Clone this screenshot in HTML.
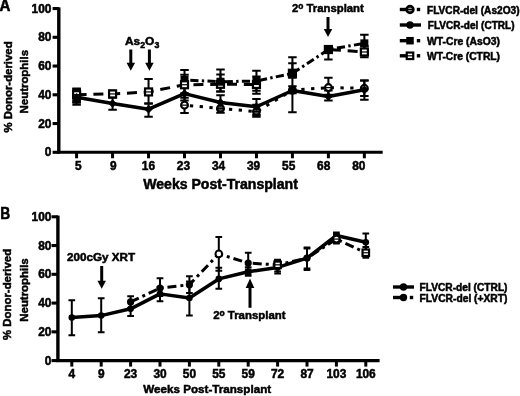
<!DOCTYPE html>
<html><head><meta charset="utf-8"><title>Figure</title>
<style>html,body{margin:0;padding:0;background:#fff;}svg{display:block;filter:blur(0.35px);}text{fill:#000;font-family:"Liberation Sans",sans-serif;font-weight:bold;}</style>
</head><body>
<svg width="520" height="396" viewBox="0 0 520 396">
<rect width="520" height="396" fill="#fff"/>
<text x="-0.4" y="10.5" font-size="15.8" textLength="10.9" lengthAdjust="spacingAndGlyphs" font-family="Liberation Sans, sans-serif" font-weight="bold" stroke="#000" stroke-width="0.5">A</text>
<text x="0.2" y="218.8" font-size="15.8" textLength="10" lengthAdjust="spacingAndGlyphs" font-family="Liberation Sans, sans-serif" font-weight="bold" stroke="#000" stroke-width="0.5">B</text>
<path d="M58.8 7.35V153.50" stroke="#000" stroke-width="3.4"/>
<path d="M57.3 152.30H382.7" stroke="#000" stroke-width="3.1"/>
<path d="M52.599999999999994 152.30H58.8" stroke="#000" stroke-width="3.1"/>
<text x="51.4" y="156.30" text-anchor="end" font-size="11.9" font-family="Liberation Sans, sans-serif" font-weight="bold" stroke="#000" stroke-width="0.5">0</text>
<path d="M52.599999999999994 123.55H58.8" stroke="#000" stroke-width="3.1"/>
<text x="51.4" y="127.55" text-anchor="end" font-size="11.9" font-family="Liberation Sans, sans-serif" font-weight="bold" stroke="#000" stroke-width="0.5">20</text>
<path d="M52.599999999999994 94.80H58.8" stroke="#000" stroke-width="3.1"/>
<text x="51.4" y="98.80" text-anchor="end" font-size="11.9" font-family="Liberation Sans, sans-serif" font-weight="bold" stroke="#000" stroke-width="0.5">40</text>
<path d="M52.599999999999994 66.05H58.8" stroke="#000" stroke-width="3.1"/>
<text x="51.4" y="70.05" text-anchor="end" font-size="11.9" font-family="Liberation Sans, sans-serif" font-weight="bold" stroke="#000" stroke-width="0.5">60</text>
<path d="M52.599999999999994 37.30H58.8" stroke="#000" stroke-width="3.1"/>
<text x="51.4" y="41.30" text-anchor="end" font-size="11.9" font-family="Liberation Sans, sans-serif" font-weight="bold" stroke="#000" stroke-width="0.5">80</text>
<path d="M52.599999999999994 8.55H58.8" stroke="#000" stroke-width="3.1"/>
<text x="51.4" y="12.55" text-anchor="end" font-size="11.9" font-family="Liberation Sans, sans-serif" font-weight="bold" stroke="#000" stroke-width="0.5">100</text>
<path d="M76.60 152.30V158.30" stroke="#000" stroke-width="3"/>
<text x="78.30" y="169.6" text-anchor="middle" font-size="11.9" font-family="Liberation Sans, sans-serif" font-weight="bold" stroke="#000" stroke-width="0.5">5</text>
<path d="M112.57 152.30V158.30" stroke="#000" stroke-width="3"/>
<text x="113.36" y="169.6" text-anchor="middle" font-size="11.9" font-family="Liberation Sans, sans-serif" font-weight="bold" stroke="#000" stroke-width="0.5">9</text>
<path d="M148.54 152.30V158.30" stroke="#000" stroke-width="3"/>
<text x="148.42" y="169.6" text-anchor="middle" font-size="11.9" font-family="Liberation Sans, sans-serif" font-weight="bold" stroke="#000" stroke-width="0.5">16</text>
<path d="M184.51 152.30V158.30" stroke="#000" stroke-width="3"/>
<text x="183.48" y="169.6" text-anchor="middle" font-size="11.9" font-family="Liberation Sans, sans-serif" font-weight="bold" stroke="#000" stroke-width="0.5">23</text>
<path d="M220.48 152.30V158.30" stroke="#000" stroke-width="3"/>
<text x="218.54" y="169.6" text-anchor="middle" font-size="11.9" font-family="Liberation Sans, sans-serif" font-weight="bold" stroke="#000" stroke-width="0.5">34</text>
<path d="M256.45 152.30V158.30" stroke="#000" stroke-width="3"/>
<text x="253.60" y="169.6" text-anchor="middle" font-size="11.9" font-family="Liberation Sans, sans-serif" font-weight="bold" stroke="#000" stroke-width="0.5">39</text>
<path d="M292.42 152.30V158.30" stroke="#000" stroke-width="3"/>
<text x="288.66" y="169.6" text-anchor="middle" font-size="11.9" font-family="Liberation Sans, sans-serif" font-weight="bold" stroke="#000" stroke-width="0.5">55</text>
<path d="M328.39 152.30V158.30" stroke="#000" stroke-width="3"/>
<text x="323.72" y="169.6" text-anchor="middle" font-size="11.9" font-family="Liberation Sans, sans-serif" font-weight="bold" stroke="#000" stroke-width="0.5">68</text>
<path d="M364.36 152.30V158.30" stroke="#000" stroke-width="3"/>
<text x="358.78" y="169.6" text-anchor="middle" font-size="11.9" font-family="Liberation Sans, sans-serif" font-weight="bold" stroke="#000" stroke-width="0.5">80</text>
<text x="143.2" y="188.5" font-size="14" textLength="154.7" lengthAdjust="spacingAndGlyphs" font-family="Liberation Sans, sans-serif" font-weight="bold" stroke="#000" stroke-width="0.5">Weeks Post-Transplant</text>
<text transform="translate(11.8,132.4) rotate(-90)" font-size="11.6" textLength="91" lengthAdjust="spacingAndGlyphs" font-family="Liberation Sans, sans-serif" font-weight="bold" stroke="#000" stroke-width="0.5">% Donor-derived</text>
<text transform="translate(28.3,113.4) rotate(-90)" font-size="11.6" textLength="63.4" lengthAdjust="spacingAndGlyphs" font-family="Liberation Sans, sans-serif" font-weight="bold" stroke="#000" stroke-width="0.5">Neutrophils</text>
<path d="M76.60 91.93V104.86M72.35 91.93h8.5M72.35 104.86h8.5" stroke="#000" stroke-width="2.0" fill="none"/>
<path d="M112.57 97.68V109.75M108.32 97.68h8.5M108.32 109.75h8.5" stroke="#000" stroke-width="2.0" fill="none"/>
<path d="M148.54 103.43V116.65M144.29 103.43h8.5M144.29 116.65h8.5" stroke="#000" stroke-width="2.0" fill="none"/>
<path d="M184.51 87.61V100.55M180.26 87.61h8.5M180.26 100.55h8.5" stroke="#000" stroke-width="2.0" fill="none"/>
<path d="M220.48 95.23V109.18M216.23 95.23h8.5M216.23 109.18h8.5" stroke="#000" stroke-width="2.0" fill="none"/>
<path d="M256.45 99.11V114.93M252.20 99.11h8.5M252.20 114.93h8.5" stroke="#000" stroke-width="2.0" fill="none"/>
<path d="M292.42 70.36V112.19M288.17 70.36h8.5M288.17 112.19h8.5" stroke="#000" stroke-width="2.0" fill="none"/>
<path d="M328.39 90.49V100.55M324.14 90.49h8.5M324.14 100.55h8.5" stroke="#000" stroke-width="2.0" fill="none"/>
<path d="M364.36 80.43V99.83M360.11 80.43h8.5M360.11 99.83h8.5" stroke="#000" stroke-width="2.0" fill="none"/>
<path d="M76.60 90.49V101.99M72.35 90.49h8.5M72.35 101.99h8.5" stroke="#000" stroke-width="2.0" fill="none"/>
<path d="M184.51 97.68V112.91M180.26 97.68h8.5M180.26 112.91h8.5" stroke="#000" stroke-width="2.0" fill="none"/>
<path d="M220.48 101.99V112.77M216.23 101.99h8.5M216.23 112.77h8.5" stroke="#000" stroke-width="2.0" fill="none"/>
<path d="M256.45 104.86V116.65M252.20 104.86h8.5M252.20 116.65h8.5" stroke="#000" stroke-width="2.0" fill="none"/>
<path d="M292.42 86.18V93.36M288.17 86.18h8.5M288.17 93.36h8.5" stroke="#000" stroke-width="2.0" fill="none"/>
<path d="M328.39 77.84V94.80M324.14 77.84h8.5M324.14 94.80h8.5" stroke="#000" stroke-width="2.0" fill="none"/>
<path d="M364.36 80.43V95.95M360.11 80.43h8.5M360.11 95.95h8.5" stroke="#000" stroke-width="2.0" fill="none"/>
<path d="M76.60 88.48V102.71M72.35 88.48h8.5M72.35 102.71h8.5" stroke="#000" stroke-width="2.0" fill="none"/>
<path d="M184.51 69.93V86.18M180.26 69.93h8.5M180.26 86.18h8.5" stroke="#000" stroke-width="2.0" fill="none"/>
<path d="M220.48 69.50V91.49M216.23 69.50h8.5M216.23 91.49h8.5" stroke="#000" stroke-width="2.0" fill="none"/>
<path d="M256.45 70.65V90.78M252.20 70.65h8.5M252.20 90.78h8.5" stroke="#000" stroke-width="2.0" fill="none"/>
<path d="M292.42 57.28V77.55M288.17 57.28h8.5M288.17 77.55h8.5" stroke="#000" stroke-width="2.0" fill="none"/>
<path d="M328.39 45.93V59.44M324.14 45.93h8.5M324.14 59.44h8.5" stroke="#000" stroke-width="2.0" fill="none"/>
<path d="M364.36 34.71V54.55M360.11 34.71h8.5M360.11 54.55h8.5" stroke="#000" stroke-width="2.0" fill="none"/>
<path d="M76.60 89.05V100.55M72.35 89.05h8.5M72.35 100.55h8.5" stroke="#000" stroke-width="2.0" fill="none"/>
<path d="M112.57 90.49V96.96M108.32 90.49h8.5M108.32 96.96h8.5" stroke="#000" stroke-width="2.0" fill="none"/>
<path d="M148.54 78.99V103.43M144.29 78.99h8.5M144.29 103.43h8.5" stroke="#000" stroke-width="2.0" fill="none"/>
<path d="M184.51 74.68V93.36M180.26 74.68h8.5M180.26 93.36h8.5" stroke="#000" stroke-width="2.0" fill="none"/>
<path d="M220.48 74.39V91.49M216.23 74.39h8.5M216.23 91.49h8.5" stroke="#000" stroke-width="2.0" fill="none"/>
<path d="M256.45 76.40V93.65M252.20 76.40h8.5M252.20 93.65h8.5" stroke="#000" stroke-width="2.0" fill="none"/>
<path d="M292.42 63.32V77.55M288.17 63.32h8.5M288.17 77.55h8.5" stroke="#000" stroke-width="2.0" fill="none"/>
<path d="M328.39 45.93V53.11M324.14 45.93h8.5M324.14 53.11h8.5" stroke="#000" stroke-width="2.0" fill="none"/>
<path d="M364.36 45.93V57.14M360.11 45.93h8.5M360.11 57.14h8.5" stroke="#000" stroke-width="2.0" fill="none"/>
<path d="M76.60 94.66 L112.57 93.94 L148.54 91.93 L184.51 84.74 L220.48 84.31 L256.45 84.45" stroke="#000" stroke-width="3" fill="none" stroke-linejoin="round" stroke-linecap="butt" stroke-dasharray="10 6.8" stroke-dashoffset="0"/>
<path d="M328.39 49.52 L364.36 51.96" stroke="#000" stroke-width="3" fill="none" stroke-linejoin="round" stroke-linecap="butt" stroke-dasharray="10 6.8" stroke-dashoffset="14.3"/>
<path d="M184.51 79.99 L220.48 81.72 L256.45 81.00 L292.42 73.38 L328.39 49.52 L364.36 43.34" stroke="#000" stroke-width="3" fill="none" stroke-linejoin="round" stroke-linecap="butt" stroke-dasharray="8.2 3.3 2.4 3.3" stroke-dashoffset="11.4"/>
<path d="M184.51 105.15 L220.48 108.46 L256.45 111.62 L292.42 90.20 L328.39 87.61 L364.36 88.33" stroke="#000" stroke-width="3" fill="none" stroke-linejoin="round" stroke-linecap="butt" stroke-dasharray="3.3 6.5" stroke-dashoffset="4.4"/>
<path d="M76.60 97.24 L112.57 103.43 L148.54 109.18 L184.51 93.65 L220.48 102.56 L256.45 106.73 L292.42 90.49 L328.39 96.53 L364.36 89.77" stroke="#000" stroke-width="3.5" fill="none" stroke-linejoin="round" stroke-linecap="butt"/>
<rect x="109.07" y="90.44" width="7" height="7" fill="#fff" stroke="#000" stroke-width="2.2"/>
<path d="M109.07 93.94h7" stroke="#000" stroke-width="1.2"/>
<rect x="145.04" y="88.43" width="7" height="7" fill="#fff" stroke="#000" stroke-width="2.2"/>
<path d="M145.04 91.93h7" stroke="#000" stroke-width="1.2"/>
<rect x="216.98" y="80.81" width="7" height="7" fill="#fff" stroke="#000" stroke-width="2.2"/>
<path d="M216.98 84.31h7" stroke="#000" stroke-width="1.2"/>
<rect x="252.95" y="80.95" width="7" height="7" fill="#fff" stroke="#000" stroke-width="2.2"/>
<path d="M252.95 84.45h7" stroke="#000" stroke-width="1.2"/>
<rect x="288.92" y="69.74" width="7" height="7" fill="#fff" stroke="#000" stroke-width="2.2"/>
<path d="M288.92 73.24h7" stroke="#000" stroke-width="1.2"/>
<rect x="324.89" y="46.02" width="7" height="7" fill="#fff" stroke="#000" stroke-width="2.2"/>
<path d="M324.89 49.52h7" stroke="#000" stroke-width="1.2"/>
<rect x="360.86" y="48.46" width="7" height="7" fill="#fff" stroke="#000" stroke-width="2.2"/>
<path d="M360.86 51.96h7" stroke="#000" stroke-width="1.2"/>
<rect x="72.60" y="93.24" width="8" height="8" fill="#000"/>
<rect x="180.51" y="75.99" width="8" height="8" fill="#000"/>
<rect x="216.48" y="77.72" width="8" height="8" fill="#000"/>
<rect x="252.45" y="77.00" width="8" height="8" fill="#000"/>
<rect x="288.42" y="69.38" width="8" height="8" fill="#000"/>
<rect x="324.39" y="45.52" width="8" height="8" fill="#000"/>
<rect x="360.36" y="39.34" width="8" height="8" fill="#000"/>
<rect x="181.01" y="81.24" width="7" height="7" fill="#fff" stroke="#000" stroke-width="2.2"/>
<path d="M181.01 84.74h7" stroke="#000" stroke-width="1.2"/>
<circle cx="76.60" cy="96.24" r="3.4" fill="#fff" stroke="#000" stroke-width="2.2"/>
<path d="M73.20 96.24h6.8" stroke="#000" stroke-width="1.2"/>
<circle cx="184.51" cy="105.15" r="3.4" fill="#fff" stroke="#000" stroke-width="2.2"/>
<path d="M181.11 105.15h6.8" stroke="#000" stroke-width="1.2"/>
<circle cx="220.48" cy="108.46" r="3.4" fill="#555" stroke="#000" stroke-width="2.2"/>
<path d="M217.08 108.46h6.8" stroke="#000" stroke-width="1.2"/>
<circle cx="256.45" cy="111.62" r="3.4" fill="#555" stroke="#000" stroke-width="2.2"/>
<path d="M253.05 111.62h6.8" stroke="#000" stroke-width="1.2"/>
<circle cx="292.42" cy="90.20" r="3.4" fill="#000" stroke="#000" stroke-width="2.2"/>
<path d="M289.02 90.20h6.8" stroke="#000" stroke-width="1.2"/>
<circle cx="328.39" cy="87.61" r="3.4" fill="#fff" stroke="#000" stroke-width="2.2"/>
<path d="M324.99 87.61h6.8" stroke="#000" stroke-width="1.2"/>
<circle cx="364.36" cy="88.33" r="3.4" fill="#fff" stroke="#000" stroke-width="2.2"/>
<path d="M360.96 88.33h6.8" stroke="#000" stroke-width="1.2"/>
<rect x="73.10" y="91.16" width="7" height="7" fill="#fff" stroke="#000" stroke-width="2.2"/>
<path d="M73.10 94.66h7" stroke="#000" stroke-width="1.2"/>
<path d="M72.30 97.24L76.60 92.94L80.90 97.24L76.60 101.54z" fill="#000"/>
<path d="M108.27 103.43L112.57 99.13L116.87 103.43L112.57 107.73z" fill="#000"/>
<path d="M144.24 109.18L148.54 104.88L152.84 109.18L148.54 113.48z" fill="#000"/>
<path d="M180.21 93.65L184.51 89.35L188.81 93.65L184.51 97.95z" fill="#000"/>
<path d="M216.18 102.56L220.48 98.26L224.78 102.56L220.48 106.86z" fill="#000"/>
<path d="M252.15 106.73L256.45 102.43L260.75 106.73L256.45 111.03z" fill="#000"/>
<path d="M288.12 90.49L292.42 86.19L296.72 90.49L292.42 94.79z" fill="#000"/>
<path d="M324.09 96.53L328.39 92.23L332.69 96.53L328.39 100.83z" fill="#000"/>
<path d="M360.06 89.77L364.36 85.47L368.66 89.77L364.36 94.07z" fill="#000"/>
<text x="125" y="44.8" font-size="11.6" textLength="34.3" lengthAdjust="spacingAndGlyphs" font-family="Liberation Sans, sans-serif" font-weight="bold" stroke="#000" stroke-width="0.5">As<tspan dy="3" font-size="8.5">2</tspan><tspan dy="-3">O</tspan><tspan dy="3" font-size="8.5">3</tspan></text>
<path d="M130.80 49.50V63.80" stroke="#000" stroke-width="3"/>
<path d="M126.55 62.80h8.5L130.80 70.80z" fill="#000"/>
<path d="M149.40 49.50V63.80" stroke="#000" stroke-width="3"/>
<path d="M145.15 62.80h8.5L149.40 70.80z" fill="#000"/>
<text x="292" y="12.3" font-size="11.5" textLength="71.8" lengthAdjust="spacingAndGlyphs" font-family="Liberation Sans, sans-serif" font-weight="bold" stroke="#000" stroke-width="0.5">2<tspan dy="-3.4" font-size="8.5">o</tspan><tspan dy="3.4"> Transplant</tspan></text>
<path d="M328.00 17.00V30.00" stroke="#000" stroke-width="3"/>
<path d="M323.75 29.00h8.5L328.00 37.00z" fill="#000"/>
<path d="M399.8 9.5H410" stroke="#000" stroke-width="3.4"/>
<circle cx="410.00" cy="9.50" r="3.4" fill="#aaa" stroke="#000" stroke-width="2.6"/>
<path d="M406.60 9.50h6.8" stroke="#000" stroke-width="1.2"/>
<rect x="416.8" y="7.8" width="3.4" height="3.4" fill="#000"/>
<text x="427" y="13.5" font-size="10.4" textLength="92.5" lengthAdjust="spacingAndGlyphs" font-family="Liberation Sans, sans-serif" font-weight="bold" stroke="#000" stroke-width="0.5">FLVCR-del (As2O3)</text>
<path d="M399.8 25H421" stroke="#000" stroke-width="3.4"/>
<circle cx="410.00" cy="25.00" r="3.7" fill="#000"/>
<text x="427.8" y="29.0" font-size="10.4" textLength="86.7" lengthAdjust="spacingAndGlyphs" font-family="Liberation Sans, sans-serif" font-weight="bold" stroke="#000" stroke-width="0.5">FLVCR-del (CTRL)</text>
<path d="M399.8 40.7H410" stroke="#000" stroke-width="3.4"/>
<rect x="406.25" y="36.95" width="7.5" height="7.5" fill="#000"/>
<rect x="416.8" y="39.0" width="3.4" height="3.4" fill="#000"/>
<text x="427" y="44.7" font-size="10.4" textLength="73" lengthAdjust="spacingAndGlyphs" font-family="Liberation Sans, sans-serif" font-weight="bold" stroke="#000" stroke-width="0.5">WT-Cre (AsO3)</text>
<path d="M399.8 55.8H410" stroke="#000" stroke-width="3.4"/>
<rect x="406.75" y="52.55" width="6.5" height="6.5" fill="#fff" stroke="#000" stroke-width="2.2"/>
<path d="M406.75 55.80h6.5" stroke="#000" stroke-width="1.2"/>
<rect x="416.8" y="54.099999999999994" width="3.4" height="3.4" fill="#000"/>
<text x="427" y="59.8" font-size="10.4" textLength="73" lengthAdjust="spacingAndGlyphs" font-family="Liberation Sans, sans-serif" font-weight="bold" stroke="#000" stroke-width="0.5">WT-Cre (CTRL)</text>
<path d="M57.9 215.60V361.80" stroke="#000" stroke-width="3.4"/>
<path d="M56.4 360.60H379.6" stroke="#000" stroke-width="3.1"/>
<path d="M51.5 360.60H57.9" stroke="#000" stroke-width="3.1"/>
<text x="51.4" y="364.60" text-anchor="end" font-size="11.9" font-family="Liberation Sans, sans-serif" font-weight="bold" stroke="#000" stroke-width="0.5">0</text>
<path d="M51.5 331.84H57.9" stroke="#000" stroke-width="3.1"/>
<text x="51.4" y="335.84" text-anchor="end" font-size="11.9" font-family="Liberation Sans, sans-serif" font-weight="bold" stroke="#000" stroke-width="0.5">20</text>
<path d="M51.5 303.08H57.9" stroke="#000" stroke-width="3.1"/>
<text x="51.4" y="307.08" text-anchor="end" font-size="11.9" font-family="Liberation Sans, sans-serif" font-weight="bold" stroke="#000" stroke-width="0.5">40</text>
<path d="M51.5 274.32H57.9" stroke="#000" stroke-width="3.1"/>
<text x="51.4" y="278.32" text-anchor="end" font-size="11.9" font-family="Liberation Sans, sans-serif" font-weight="bold" stroke="#000" stroke-width="0.5">60</text>
<path d="M51.5 245.56H57.9" stroke="#000" stroke-width="3.1"/>
<text x="51.4" y="249.56" text-anchor="end" font-size="11.9" font-family="Liberation Sans, sans-serif" font-weight="bold" stroke="#000" stroke-width="0.5">80</text>
<path d="M51.5 216.80H57.9" stroke="#000" stroke-width="3.1"/>
<text x="51.4" y="220.80" text-anchor="end" font-size="11.9" font-family="Liberation Sans, sans-serif" font-weight="bold" stroke="#000" stroke-width="0.5">100</text>
<path d="M71.80 360.60V366.60" stroke="#000" stroke-width="3"/>
<text x="71.80" y="378.2" text-anchor="middle" font-size="11.9" font-family="Liberation Sans, sans-serif" font-weight="bold" stroke="#000" stroke-width="0.5">4</text>
<path d="M101.20 360.60V366.60" stroke="#000" stroke-width="3"/>
<text x="101.20" y="378.2" text-anchor="middle" font-size="11.9" font-family="Liberation Sans, sans-serif" font-weight="bold" stroke="#000" stroke-width="0.5">9</text>
<path d="M130.60 360.60V366.60" stroke="#000" stroke-width="3"/>
<text x="130.60" y="378.2" text-anchor="middle" font-size="11.9" font-family="Liberation Sans, sans-serif" font-weight="bold" stroke="#000" stroke-width="0.5">23</text>
<path d="M160.00 360.60V366.60" stroke="#000" stroke-width="3"/>
<text x="160.00" y="378.2" text-anchor="middle" font-size="11.9" font-family="Liberation Sans, sans-serif" font-weight="bold" stroke="#000" stroke-width="0.5">30</text>
<path d="M189.40 360.60V366.60" stroke="#000" stroke-width="3"/>
<text x="189.40" y="378.2" text-anchor="middle" font-size="11.9" font-family="Liberation Sans, sans-serif" font-weight="bold" stroke="#000" stroke-width="0.5">50</text>
<path d="M218.80 360.60V366.60" stroke="#000" stroke-width="3"/>
<text x="218.80" y="378.2" text-anchor="middle" font-size="11.9" font-family="Liberation Sans, sans-serif" font-weight="bold" stroke="#000" stroke-width="0.5">55</text>
<path d="M248.20 360.60V366.60" stroke="#000" stroke-width="3"/>
<text x="248.20" y="378.2" text-anchor="middle" font-size="11.9" font-family="Liberation Sans, sans-serif" font-weight="bold" stroke="#000" stroke-width="0.5">59</text>
<path d="M277.60 360.60V366.60" stroke="#000" stroke-width="3"/>
<text x="277.60" y="378.2" text-anchor="middle" font-size="11.9" font-family="Liberation Sans, sans-serif" font-weight="bold" stroke="#000" stroke-width="0.5">72</text>
<path d="M307.00 360.60V366.60" stroke="#000" stroke-width="3"/>
<text x="307.00" y="378.2" text-anchor="middle" font-size="11.9" font-family="Liberation Sans, sans-serif" font-weight="bold" stroke="#000" stroke-width="0.5">87</text>
<path d="M336.40 360.60V366.60" stroke="#000" stroke-width="3"/>
<text x="336.40" y="378.2" text-anchor="middle" font-size="11.9" font-family="Liberation Sans, sans-serif" font-weight="bold" stroke="#000" stroke-width="0.5">103</text>
<path d="M365.80 360.60V366.60" stroke="#000" stroke-width="3"/>
<text x="365.80" y="378.2" text-anchor="middle" font-size="11.9" font-family="Liberation Sans, sans-serif" font-weight="bold" stroke="#000" stroke-width="0.5">106</text>
<text x="143.2" y="393.2" font-size="11.6" textLength="128" lengthAdjust="spacingAndGlyphs" font-family="Liberation Sans, sans-serif" font-weight="bold" stroke="#000" stroke-width="0.5">Weeks Post-Transplant</text>
<text transform="translate(11.0,339.9) rotate(-90)" font-size="11.6" textLength="91" lengthAdjust="spacingAndGlyphs" font-family="Liberation Sans, sans-serif" font-weight="bold" stroke="#000" stroke-width="0.5">% Donor-derived</text>
<text transform="translate(28.1,321.7) rotate(-90)" font-size="11.6" textLength="63.4" lengthAdjust="spacingAndGlyphs" font-family="Liberation Sans, sans-serif" font-weight="bold" stroke="#000" stroke-width="0.5">Neutrophils</text>
<path d="M71.80 300.20V335.15M68.45 300.20h6.7M68.45 335.15h6.7" stroke="#000" stroke-width="2.0" fill="none"/>
<path d="M101.20 298.33V332.13M97.85 298.33h6.7M97.85 332.13h6.7" stroke="#000" stroke-width="2.0" fill="none"/>
<path d="M130.60 301.64V316.02M127.25 301.64h6.7M127.25 316.02h6.7" stroke="#000" stroke-width="2.0" fill="none"/>
<path d="M160.00 287.26V301.21M156.65 287.26h6.7M156.65 301.21h6.7" stroke="#000" stroke-width="2.0" fill="none"/>
<path d="M189.40 281.51V315.59M186.05 281.51h6.7M186.05 315.59h6.7" stroke="#000" stroke-width="2.0" fill="none"/>
<path d="M218.80 267.85V288.84M215.45 267.85h6.7M215.45 288.84h6.7" stroke="#000" stroke-width="2.0" fill="none"/>
<path d="M248.20 267.13V275.76M244.85 267.13h6.7M244.85 275.76h6.7" stroke="#000" stroke-width="2.0" fill="none"/>
<path d="M277.60 259.94V273.60M274.25 259.94h6.7M274.25 273.60h6.7" stroke="#000" stroke-width="2.0" fill="none"/>
<path d="M307.00 247.43V270.01M303.65 247.43h6.7M303.65 270.01h6.7" stroke="#000" stroke-width="2.0" fill="none"/>
<path d="M336.40 232.62V242.68M333.05 232.62h6.7M333.05 242.68h6.7" stroke="#000" stroke-width="2.0" fill="none"/>
<path d="M365.80 233.62V252.75M362.45 233.62h6.7M362.45 252.75h6.7" stroke="#000" stroke-width="2.0" fill="none"/>
<path d="M130.60 296.18V308.11M127.25 296.18h6.7M127.25 308.11h6.7" stroke="#000" stroke-width="2.0" fill="none"/>
<path d="M160.00 278.20V295.89M156.65 278.20h6.7M156.65 295.89h6.7" stroke="#000" stroke-width="2.0" fill="none"/>
<path d="M189.40 276.33V293.01M186.05 276.33h6.7M186.05 293.01h6.7" stroke="#000" stroke-width="2.0" fill="none"/>
<path d="M218.80 237.08V270.73M215.45 237.08h6.7M215.45 270.73h6.7" stroke="#000" stroke-width="2.0" fill="none"/>
<path d="M248.20 252.75V271.44M244.85 252.75h6.7M244.85 271.44h6.7" stroke="#000" stroke-width="2.0" fill="none"/>
<path d="M277.60 259.65V271.44M274.25 259.65h6.7M274.25 271.44h6.7" stroke="#000" stroke-width="2.0" fill="none"/>
<path d="M307.00 248.44V268.57M303.65 248.44h6.7M303.65 268.57h6.7" stroke="#000" stroke-width="2.0" fill="none"/>
<path d="M336.40 234.06V243.40M333.05 234.06h6.7M333.05 243.40h6.7" stroke="#000" stroke-width="2.0" fill="none"/>
<path d="M365.80 247.00V257.78M362.45 247.00h6.7M362.45 257.78h6.7" stroke="#000" stroke-width="2.0" fill="none"/>
<path d="M130.60 301.93 L160.00 288.12 L189.40 284.67 L218.80 253.90 L248.20 263.10 L277.60 264.83 L307.00 258.07 L336.40 239.09 L365.80 252.75" stroke="#000" stroke-width="3" fill="none" stroke-linejoin="round" stroke-linecap="butt" stroke-dasharray="9 4 3 4" stroke-dashoffset="0"/>
<path d="M71.80 317.60 L101.20 315.59 L130.60 308.83 L160.00 293.88 L189.40 298.05 L218.80 278.92 L248.20 271.73 L277.60 267.42 L307.00 258.07 L336.40 235.49 L365.80 242.25" stroke="#000" stroke-width="3.5" fill="none" stroke-linejoin="round" stroke-linecap="butt"/>
<circle cx="71.80" cy="317.60" r="3.3" fill="#000"/>
<circle cx="101.20" cy="315.59" r="3.3" fill="#000"/>
<circle cx="130.60" cy="308.83" r="3.3" fill="#000"/>
<circle cx="160.00" cy="293.88" r="3.3" fill="#000"/>
<circle cx="189.40" cy="298.05" r="3.3" fill="#000"/>
<circle cx="218.80" cy="278.92" r="3.3" fill="#000"/>
<rect x="244.95" y="268.48" width="6.5" height="6.5" fill="#000"/>
<circle cx="277.60" cy="267.42" r="3.3" fill="#000"/>
<circle cx="307.00" cy="258.07" r="3.3" fill="#000"/>
<circle cx="336.40" cy="235.49" r="3.3" fill="#000"/>
<circle cx="365.80" cy="242.25" r="3.3" fill="#000"/>
<circle cx="130.60" cy="301.93" r="3.6" fill="#000"/>
<circle cx="160.00" cy="288.12" r="3.6" fill="#000"/>
<circle cx="189.40" cy="284.67" r="3.6" fill="#000"/>
<circle cx="218.80" cy="253.90" r="3.3" fill="#fff" stroke="#000" stroke-width="2"/>
<circle cx="248.20" cy="263.10" r="3.6" fill="#000"/>
<rect x="274.35" y="261.58" width="6.5" height="6.5" fill="#fff" stroke="#000" stroke-width="2.2"/>
<path d="M274.35 264.83h6.5" stroke="#000" stroke-width="1.2"/>
<circle cx="307.00" cy="258.07" r="3.6" fill="#000"/>
<circle cx="336.40" cy="239.09" r="3.4" fill="#fff" stroke="#000" stroke-width="2.2"/>
<path d="M333.00 239.09h6.8" stroke="#000" stroke-width="1.2"/>
<rect x="362.55" y="249.50" width="6.5" height="6.5" fill="#fff" stroke="#000" stroke-width="2.2"/>
<path d="M362.55 252.75h6.5" stroke="#000" stroke-width="1.2"/>
<text x="67" y="260.6" font-size="11.2" textLength="68" lengthAdjust="spacingAndGlyphs" font-family="Liberation Sans, sans-serif" font-weight="bold" stroke="#000" stroke-width="0.5">200cGy XRT</text>
<path d="M101.70 266.00V281.80" stroke="#000" stroke-width="3"/>
<path d="M97.45 280.80h8.5L101.70 288.80z" fill="#000"/>
<path d="M250 307.8V286.4" stroke="#000" stroke-width="3"/>
<path d="M245.7 287.9h8.6L250 278.4z" fill="#000"/>
<text x="213.2" y="319" font-size="11.5" textLength="72.3" lengthAdjust="spacingAndGlyphs" font-family="Liberation Sans, sans-serif" font-weight="bold" stroke="#000" stroke-width="0.5">2<tspan dy="-3.4" font-size="8.5">o</tspan><tspan dy="3.4"> Transplant</tspan></text>
<path d="M393 287H414" stroke="#000" stroke-width="3.4"/>
<circle cx="403.50" cy="287.00" r="3.7" fill="#000"/>
<text x="419.5" y="291.0" font-size="10.4" textLength="88" lengthAdjust="spacingAndGlyphs" font-family="Liberation Sans, sans-serif" font-weight="bold" stroke="#000" stroke-width="0.5">FLVCR-del (CTRL)</text>
<path d="M393 297.5H403.5" stroke="#000" stroke-width="3.4"/>
<circle cx="403.50" cy="297.50" r="3.7" fill="#000"/>
<rect x="409.8" y="295.8" width="3.4" height="3.4" fill="#000"/>
<text x="419.5" y="301.5" font-size="10.4" textLength="88" lengthAdjust="spacingAndGlyphs" font-family="Liberation Sans, sans-serif" font-weight="bold" stroke="#000" stroke-width="0.5">FLVCR-del (+XRT)</text>
</svg>
</body></html>
